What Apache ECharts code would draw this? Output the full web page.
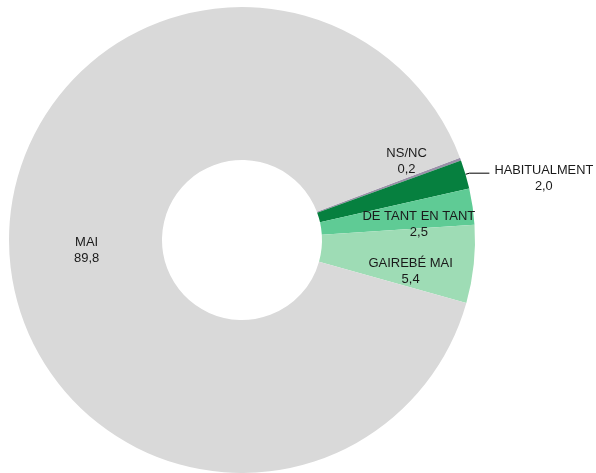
<!DOCTYPE html>
<html>
<head>
<meta charset="utf-8">
<script src="https://cdn.jsdelivr.net/npm/echarts@6/dist/echarts.min.js"></script>
<style>
  html, body { margin: 0; padding: 0; background: #fff; }
  #chart-container { width: 596px; height: 473px; }
</style>
</head>
<body>
<div id="chart-container"></div>
<script>
// answers, in clockwise order from the top-right
var categories = ['NS/NC', 'HABITUALMENT', 'DE TANT EN TANT', 'GAIREBÉ MAI', 'MAI'];
var values = [0.2, 2.0, 2.5, 5.4, 89.8];
var colors = ['#9a90a8', '#06803f', '#5fcb95', '#9edcb5', '#d9d9d9'];

var dom = document.getElementById('chart-container');
var myChart = echarts.init(dom, null, { renderer: 'canvas' });

function fmt(v) {
  return v.toFixed(1).replace('.', ',');
}

// per slice label tweaks (Excel put them a bit off the centre)
var labelOpts = [
  { position: 'inside', offset: [15, -23] },
  {
    position: 'outside',
    padding: [10, 0, 0, 0],
    formatter: function (p) {
      return '{n|' + p.name + '}\n{v|' + fmt(p.value) + '}';
    },
    rich: {
      n: { fontSize: 12.8, lineHeight: 16, color: '#1a1a1a' },
      v: { fontSize: 12.8, lineHeight: 16, color: '#1a1a1a', width: 97, align: 'center' }
    }
  },
  { position: 'inside', offset: [19, 7] },
  { position: 'inside', offset: [10, 15] },
  { position: 'inside', offset: [4, 3] }
];

var data = categories.map(function (name, i) {
  var d = {
    name: name,
    value: values[i],
    itemStyle: { color: colors[i] },
    label: labelOpts[i]
  };
  if (i === 1) {
    d.labelLine = { show: true, length: 4, length2: 20, lineStyle: { color: '#000', width: 1 } };
  }
  return d;
});

var option = {
  animation: false,
  series: [
    {
      type: 'pie',
      center: [242, 240],
      radius: [80, 233],
      startAngle: 20.7,
      clockwise: true,
      avoidLabelOverlap: false,
      label: {
        show: true,
        color: '#1a1a1a',
        fontFamily: 'Liberation Sans, Arial, sans-serif',
        fontSize: 13,
        lineHeight: 16,
        align: 'center',
        formatter: function (p) {
          return p.name + '\n' + fmt(p.value);
        }
      },
      labelLine: { show: false },
      emphasis: { disabled: true },
      data: data
    }
  ]
};

myChart.setOption(option);
window.addEventListener('resize', myChart.resize);
</script>
</body>
</html>
